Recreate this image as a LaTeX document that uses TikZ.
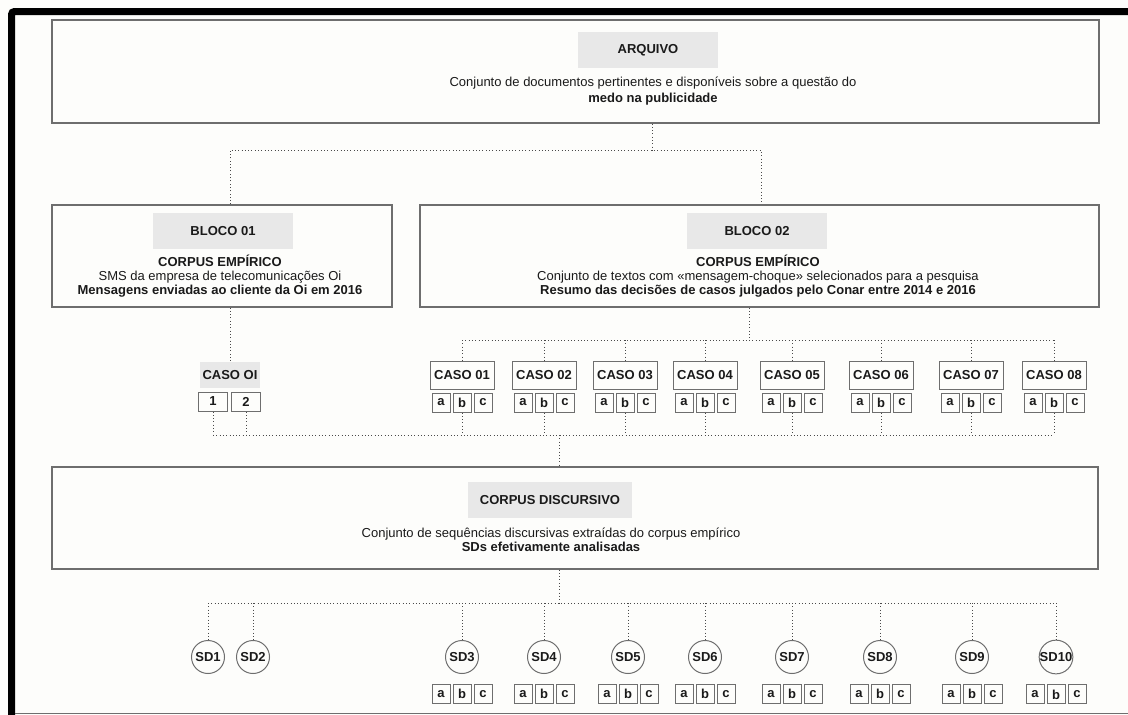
\documentclass[tikz,border=0pt]{standalone}
\usepackage{fontspec}
\setmainfont{Liberation Sans}
\usepackage{tikz}
\usetikzlibrary{positioning}
\definecolor{paper}{HTML}{FDFDFB}
\definecolor{boxline}{HTML}{6E6E6E}
\definecolor{tagfill}{HTML}{E8E8E8}
\definecolor{ink}{HTML}{1A1A1A}
\definecolor{dotline}{HTML}{4A4A4A}
\newcommand{\diafont}{\fontsize{13}{14}\selectfont}

\tikzset{
  panel/.style={draw=boxline,line width=1.1pt,fill=paper,inner sep=0pt},
  tag/.style={fill=tagfill,inner sep=0pt,minimum width=140pt,minimum height=36pt,font=\diafont\bfseries},
  caso/.style={draw=boxline,line width=1pt,fill=paper,minimum width=64pt,minimum height=28pt,inner sep=0pt,font=\diafont\bfseries},
  cell/.style={draw=boxline,line width=1pt,fill=paper,minimum width=18pt,minimum height=19pt,inner sep=0pt,font=\diafont\bfseries},
  sdnode/.style={circle,draw=boxline,line width=1pt,fill=paper,minimum size=33pt,inner sep=0pt,font=\diafont\bfseries},
  link/.style={dotline,line width=1pt,dash pattern=on 1pt off 2.3pt},
}

\begin{document}
\begin{tikzpicture}[x=1pt,y=-1pt,font=\diafont,text=ink]
  \useasboundingbox (0,0) rectangle (1128,715);
  \fill[paper] (0,0) rectangle (1128,715);
  % frame
  \draw[line width=7pt,rounded corners=3pt] (11.5,716) -- (11.5,11.5) -- (1129,11.5);
  \draw[boxline,line width=1pt] (15,713) -- (1128,713);

  % arquivo
  \node[panel,minimum width=1047pt,minimum height=103pt] (arquivo) at (575.5,71.5) {};
  \node[tag] (arqtag) at (648,50) {ARQUIVO};
  \node[align=center,font=\fontsize{13}{16}\selectfont] (arqtxt) at (653,91)
    {Conjunto de documentos pertinentes e disponíveis sobre a questão do\\\textbf{medo na publicidade}};

  % blocos
  \node[panel,minimum width=340pt,minimum height=102pt] (bloco1) at (222,256) {};
  \node[tag] (tag1) at (223,231) {BLOCO 01};
  \node[align=center] (txt1) at (220,276)
    {\textbf{CORPUS EMPÍRICO}\\SMS da empresa de telecomunicações Oi\\\textbf{Mensagens enviadas ao cliente da Oi em 2016}};
  \node[panel,minimum width=679pt,minimum height=102pt] (bloco2) at (759.5,256) {};
  \node[tag] (tag2) at (757,231) {BLOCO 02};
  \node[align=center] (txt2) at (758,276)
    {\textbf{CORPUS EMPÍRICO}\\Conjunto de textos com «mensagem-choque» selecionados para a pesquisa\\\textbf{Resumo das decisões de casos julgados pelo Conar entre 2014 e 2016}};

  \coordinate (k0) at (652,150);
  \coordinate (k1) at (230,150);
  \coordinate (k2) at (761,150);
  \draw[link] (arquivo.south -| k0) -- (k0);
  \draw[link] (bloco1.north -| k1) -- (k1) -- (k2) -- (bloco2.north -| k2);

  % casos
  \node[tag,minimum width=60pt,minimum height=26pt] (casooi) at (230,375) {CASO OI};
  \node[cell,minimum width=29pt] (one) at (213,401.5) {1};
  \node[cell,minimum width=29pt] (two) at (246,401.5) {2};
  \draw[link] (bloco1.south -| casooi) -- (casooi.north);

  \foreach \x [count=\i] in {462,544,625,705,792,881,971,1054} {
    \node[caso] (caso\i) at (\x,375) {CASO 0\i};
    \node[cell,below=3pt of caso\i] (caso\i-b) {b};
    \node[cell,left=2pt of caso\i-b] (caso\i-a) {a};
    \node[cell,right=2pt of caso\i-b] (caso\i-c) {c};
  }

  \coordinate (h2) at (749,340);
  \draw[link] (bloco2.south -| h2) -- (h2);
  \draw[link] (caso1.north |- h2) -- (caso8.north |- h2);
  \foreach \i in {1,...,8}
    \draw[link] (caso\i.north |- h2) -- (caso\i.north);

  % corpus discursivo
  \node[panel,minimum width=1046pt,minimum height=102pt] (discurso) at (575,518) {};
  \node[tag,minimum width=164pt] (tag3) at (550,500) {CORPUS DISCURSIVO};
  \node[align=center] (txt3) at (551,539.5)
    {Conjunto de sequências discursivas extraídas do corpus empírico\\\textbf{SDs efetivamente analisadas}};

  \coordinate (h3) at (559,435);
  \draw[link] (one.south |- h3) -- (caso8-b.south |- h3);
  \foreach \n in {one,two,caso1-b,caso2-b,caso3-b,caso4-b,caso5-b,caso6-b,caso7-b,caso8-b}
    \draw[link] (\n.south) -- (\n.south |- h3);
  \draw[link] (h3) -- (discurso.north -| h3);

  % sequencias
  \foreach \x [count=\i] in {208,253,462,544,628,705,792,880,972,1056}
    \node[sdnode] (sd\i) at (\x,657) {SD\i};
  \foreach \i in {3,...,10} {
    \node[cell,below=10pt of sd\i] (sd\i-b) {b};
    \node[cell,left=2pt of sd\i-b] (sd\i-a) {a};
    \node[cell,right=2pt of sd\i-b] (sd\i-c) {c};
  }

  \coordinate (h4) at (559,603);
  \draw[link] (discurso.south -| h4) -- (h4);
  \draw[link] (sd1.north |- h4) -- (sd10.north |- h4);
  \foreach \i in {1,...,10}
    \draw[link] (sd\i.north |- h4) -- (sd\i.north);
\end{tikzpicture}
\end{document}
